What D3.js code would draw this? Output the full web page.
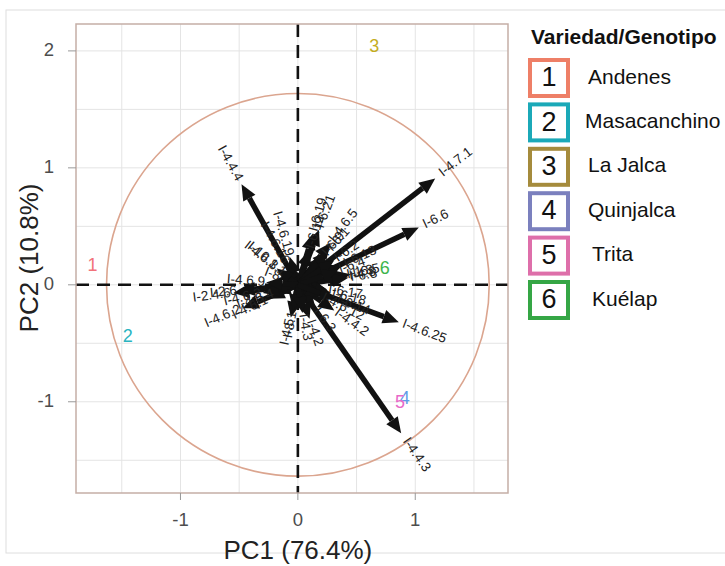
<!DOCTYPE html>
<html>
<head>
<meta charset="utf-8">
<script src="https://cdn.jsdelivr.net/npm/d3@7"></script>
<style>
  body { margin: 0; background: #fff; }
  text { font-family: "Liberation Sans", Arial, sans-serif; }
</style>
</head>
<body>
<div id="viz"></div>
<script>
// PCA biplot - varieties (points as numbers) and variable loadings (arrows)

// groups / varieties
const groupIds = ["1", "2", "3", "4", "5", "6"];
const groupNames = ["Andenes", "Masacanchino", "La Jalca", "Quinjalca", "Trita", "Kuélap"];
const groupPC1 = [-1.75, -1.45, 0.65, 0.91, 0.87, 0.74];
const groupPC2 = [0.16, -0.45, 2.03, -0.98, -1.01, 0.13];
const groupColors = ["#f2727a", "#2ab4c0", "#c4ad1e", "#5f9ce8", "#e868c8", "#3cb44c"];
const legendColors = ["#ee7f67", "#1ba9b8", "#a58b3c", "#7b80be", "#de6faa", "#35a645"];

// variable loadings
const varNames = [
  "I-4.4.4", "I-4.7.1", "I-6.6", "I-4.6.25", "I-4.4.3", "I-4.4.2",
  "I-4.6.5", "I-6.19", "I-6.21", "I-6.13", "I-1.8", "I-4.8", "I-6.5", "I-6.8",
  "I-6.17", "I-6.18", "I-6.3", "I-4.6.12",
  "I-10.1.1", "I-8", "I-4.6.19", "I-4.6.16", "I-4.6.2", "I-2.4.6", "I-2.6",
  "I-4.6.4", "I-4.6.1", "I-4.5", "I-8.1", "I-6.12", "I-6.9", "I-4.6.3",
  "I-6.1", "I-6.2", "I-6.4", "I-4.6.8", "I-4.6.9", "I-4.2", "I-4.3", "I-6.14"
];
const varPC1 = [
  -0.48, 1.17, 1.03, 0.86, 0.88, 0.31,
  0.28, 0.13, 0.18, 0.38, 0.40, 0.42, 0.45, 0.43,
  0.25, 0.28, 0.15, 0.20,
  -0.11, -0.15, -0.07, -0.10, -0.47, -0.55, -0.50,
  -0.20, -0.25, -0.06, -0.04, 0.10, 0.22, -0.30,
  0.26, 0.31, 0.34, -0.18, -0.27, 0.10, 0.04, 0.32
];
const varPC2 = [
  0.86, 0.91, 0.49, -0.32, -1.27, -0.22,
  0.36, 0.44, 0.47, 0.17, 0.08, 0.07, 0.09, 0.06,
  -0.04, -0.07, -0.20, -0.10,
  0.09, 0.06, 0.24, 0.18, -0.20, -0.07, -0.05,
  -0.07, -0.12, -0.28, -0.22, 0.30, 0.25, -0.07,
  0.29, 0.21, 0.12, 0.14, 0.02, -0.29, -0.24, -0.12
];

const xTicks = [-1, 0, 1];
const yTicks = [-1, 0, 1, 2];
const gridX = [-1.5, -1, -0.5, 0, 0.5, 1, 1.5];
const gridY = [-1.5, -1, -0.5, 0, 0.5, 1, 1.5, 2];
const circleR = 1.63;

const svg = d3.select("#viz").append("svg")
  .attr("width", 725)
  .attr("height", 566);

// outer frame of the figure
svg.append("rect")
  .attr("x", 6).attr("y", 10)
  .attr("width", 760).attr("height", 543)
  .attr("fill", "none")
  .attr("stroke", "#dedede");

const x = d3.scaleLinear().domain([-1.89, 1.79]).range([76, 508]);
const y = d3.scaleLinear().domain([-1.78, 2.23]).range([493, 24]);

const panel = svg.append("g");

// grid
panel.selectAll("line.gx").data(gridX).enter().append("line")
  .attr("x1", d => x(d)).attr("x2", d => x(d))
  .attr("y1", y.range()[0]).attr("y2", y.range()[1])
  .attr("stroke", "#e4e4e4").attr("stroke-width", 1);
panel.selectAll("line.gy").data(gridY).enter().append("line")
  .attr("y1", d => y(d)).attr("y2", d => y(d))
  .attr("x1", x.range()[0]).attr("x2", x.range()[1])
  .attr("stroke", "#e4e4e4").attr("stroke-width", 1);

// correlation circle
panel.append("circle")
  .attr("cx", x(0)).attr("cy", y(0))
  .attr("r", x(circleR) - x(0))
  .attr("fill", "none")
  .attr("stroke", "#dba58f")
  .attr("stroke-width", 1.6);

// dashed axes through origin
panel.append("line")
  .attr("x1", x.range()[0]).attr("x2", x.range()[1])
  .attr("y1", y(0)).attr("y2", y(0))
  .attr("stroke", "#111").attr("stroke-width", 2.6)
  .attr("stroke-dasharray", "13,8");
panel.append("line")
  .attr("y1", y.range()[1]).attr("y2", y.range()[0])
  .attr("x1", x(0)).attr("x2", x(0))
  .attr("stroke", "#111").attr("stroke-width", 2.6)
  .attr("stroke-dasharray", "13,8");

// group labels (numbers)
panel.selectAll("text.grp").data(groupIds).enter().append("text")
  .attr("class", "grp")
  .attr("x", (d, i) => x(groupPC1[i]))
  .attr("y", (d, i) => y(groupPC2[i]))
  .attr("text-anchor", "middle")
  .attr("dominant-baseline", "middle")
  .style("font-size", "18px")
  .attr("fill", (d, i) => groupColors[i])
  .text(d => d);

// arrows
const vars = varNames.map((n, i) => ({ name: n, pc1: varPC1[i], pc2: varPC2[i] }));
const headLen = 16, headW = 7;
vars.forEach(v => {
  const x0 = x(0), y0 = y(0), x1 = x(v.pc1), y1 = y(v.pc2);
  const len = Math.hypot(x1 - x0, y1 - y0);
  const ux = (x1 - x0) / len, uy = (y1 - y0) / len;
  const hl = Math.min(headLen, len * 0.7);
  const bx = x1 - ux * hl, by = y1 - uy * hl;
  panel.append("line")
    .attr("x1", x0).attr("y1", y0)
    .attr("x2", bx).attr("y2", by)
    .attr("stroke", "#111").attr("stroke-width", 5.5);
  panel.append("path")
    .attr("d", `M${x1},${y1} L${bx - uy * headW},${by + ux * headW} L${bx + uy * headW},${by - ux * headW} Z`)
    .attr("fill", "#111");
});

// arrow labels, rotated along the arrow
panel.selectAll("text.var").data(vars).enter().append("text")
  .attr("class", "var")
  .attr("transform", d => {
    const ang = -Math.atan(d.pc2 / d.pc1) * 180 / Math.PI;
    return `translate(${x(d.pc1 * 1.04)},${y(d.pc2 * 1.04)}) rotate(${ang})`;
  })
  .attr("text-anchor", d => d.pc1 >= 0 ? "start" : "end")
  .attr("dominant-baseline", "middle")
  .style("font-size", "13.5px")
  .attr("fill", "#222")
  .text(d => d.name);

// panel border
svg.append("rect")
  .attr("x", x.range()[0]).attr("y", y.range()[1])
  .attr("width", x.range()[1] - x.range()[0])
  .attr("height", y.range()[0] - y.range()[1])
  .attr("fill", "none")
  .attr("stroke", "#c5aea6")
  .attr("stroke-width", 1.5);

// axes ticks
svg.selectAll("line.xt").data(xTicks).enter().append("line")
  .attr("x1", d => x(d)).attr("x2", d => x(d))
  .attr("y1", 493).attr("y2", 500)
  .attr("stroke", "#999");
svg.selectAll("text.xt").data(xTicks).enter().append("text")
  .attr("x", d => x(d)).attr("y", 521)
  .attr("text-anchor", "middle")
  .attr("dominant-baseline", "middle")
  .style("font-size", "18.5px")
  .attr("fill", "#4d4d4d")
  .text(d => d);
svg.selectAll("line.yt").data(yTicks).enter().append("line")
  .attr("y1", d => y(d)).attr("y2", d => y(d))
  .attr("x1", 68).attr("x2", 76)
  .attr("stroke", "#999");
svg.selectAll("text.yt").data(yTicks).enter().append("text")
  .attr("x", 54).attr("y", d => y(d))
  .attr("text-anchor", "end")
  .attr("dominant-baseline", "middle")
  .style("font-size", "18.5px")
  .attr("fill", "#4d4d4d")
  .text(d => d);

// axis titles
svg.append("text")
  .attr("x", x(0)).attr("y", 559)
  .attr("text-anchor", "middle")
  .style("font-size", "26px")
  .attr("fill", "#222")
  .text("PC1 (76.4%)");
svg.append("text")
  .attr("transform", "translate(38,258) rotate(-90)")
  .attr("text-anchor", "middle")
  .style("font-size", "26px")
  .attr("fill", "#222")
  .text("PC2 (10.8%)");

// legend
svg.append("text")
  .attr("x", 531).attr("y", 44)
  .style("font-size", "21px")
  .style("font-weight", "bold")
  .attr("fill", "#111")
  .text("Variedad/Genotipo");

const leg = svg.selectAll("g.leg").data(groupIds).enter().append("g")
  .attr("class", "leg")
  .attr("transform", (d, i) => `translate(530,${60 + i * 44.4})`);
leg.append("rect")
  .attr("width", 38).attr("height", 36)
  .attr("fill", "#fff")
  .attr("stroke", (d, i) => legendColors[i])
  .attr("stroke-width", 4);
leg.append("text")
  .attr("x", 19).attr("y", 19)
  .attr("text-anchor", "middle")
  .attr("dominant-baseline", "middle")
  .style("font-size", "27px")
  .attr("fill", "#111")
  .text(d => d);
leg.append("text")
  .attr("x", (d, i) => i === 1 ? 55 : (i >= 4 ? 62 : 58))
  .attr("y", 18)
  .attr("dominant-baseline", "middle")
  .style("font-size", "21px")
  .attr("fill", "#111")
  .text((d, i) => groupNames[i]);
</script>
</body>
</html>
